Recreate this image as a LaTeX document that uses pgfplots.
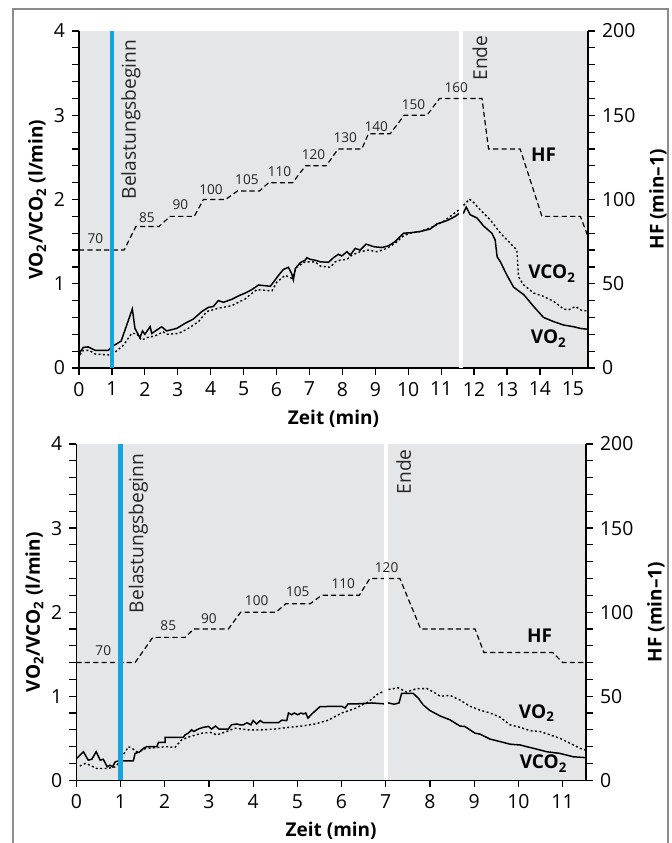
\documentclass[border=0pt]{standalone}
\usepackage{fontspec}
\setmainfont{Open Sans}
\usepackage{pgfplots}
\pgfplotsset{compat=1.18}
\definecolor{bgc}{RGB}{229,230,232}
\definecolor{blu}{RGB}{20,165,225}
\definecolor{frm}{RGB}{140,140,140}
\newcommand{\sub}[1]{\textsubscript{#1}}
\pgfplotsset{
  common/.style={scale only axis, xmin=0, tick align=outside,
    major tick length=3.5pt, minor tick length=3.5pt,
    every tick/.style={black, line width=0.6pt},
    axis line style={black, line width=0.6pt},
    tick label style={font=\fontsize{9.7}{11}\selectfont},
    label style={font=\bfseries\fontsize{9.5}{11}\selectfont},
    /pgf/number format/assume math mode=true},
  leftax/.style={common, ymin=0, ymax=4, axis x line*=bottom, axis y line*=left,
    ytick={0,1,2,3,4}, minor y tick num=4, axis background/.style={fill=bgc},
    xlabel={Zeit (min)}, ylabel={VO\sub{2}/VCO\sub{2} (l/min)}, ylabel shift=-3pt},
  rightax/.style={common, ymin=0, ymax=200, axis x line=none, axis y line*=right,
    ytick={0,50,100,150,200}, minor y tick num=4, ylabel={HF (min–1)}},
}
\tikzset{
  solidc/.style={black, line width=0.75pt},
  dotc/.style={black, line width=0.7pt, dash pattern=on 1pt off 1.2pt},
  hfc/.style={black, line width=0.6pt, dash pattern=on 2.6pt off 1.6pt},
  stepl/.style={font=\fontsize{6.8}{8}\selectfont, text=black!85, inner sep=0pt},
  curvl/.style={font=\bfseries\fontsize{9.5}{11}\selectfont, inner sep=0pt},
  vtext/.style={rotate=90, anchor=north east, inner sep=0pt, font=\fontsize{9.6}{10}\selectfont, text=black!85}
}
\begin{document}
\begin{tikzpicture}
\useasboundingbox (0,0) rectangle (336pt,421.5pt);
\draw[frm, line width=1pt] (6.5pt,-5pt) -- (6.5pt,416.9pt) -- (334pt,416.9pt) -- (334pt,-5pt);
% ---------------- top chart ----------------
\begin{axis}[leftax, at={(39.5pt,237.5pt)}, anchor=south west, width=254.5pt, height=168.5pt,
  xmax=15.46, xtick={0,1,...,15}]
\addplot[solidc] coordinates {(0,0.17)(0.13,0.245)(0.28,0.25)(0.49,0.21)(0.89,0.21)(0.99,0.25)(1.28,0.32)(1.62,0.70)(1.70,0.47)(1.85,0.36)(1.93,0.44)(2.0,0.40)(2.16,0.49)(2.21,0.41)(2.51,0.49)(2.66,0.44)(2.97,0.47)(3.22,0.53)(3.47,0.58)(3.73,0.67)(3.93,0.72)(4.08,0.73)(4.23,0.80)(4.39,0.78)(4.64,0.815)(4.84,0.855)(5.05,0.89)(5.25,0.93)(5.45,0.985)(5.81,0.97)(5.91,1.02)(6.06,1.10)(6.21,1.17)(6.36,1.195)(6.46,1.12)(6.51,1.045)(6.57,1.18)(6.72,1.25)(6.87,1.28)(6.92,1.31)(7.02,1.29)(7.17,1.28)(7.33,1.26)(7.58,1.255)(7.73,1.31)(7.88,1.35)(7.98,1.33)(8.14,1.38)(8.24,1.34)(8.39,1.42)(8.54,1.40)(8.72,1.47)(8.95,1.44)(9.20,1.43)(9.40,1.45)(9.60,1.50)(9.86,1.60)(10.06,1.605)(10.36,1.62)(10.67,1.65)(10.87,1.71)(11.18,1.75)(11.43,1.80)(11.53,1.83)(11.68,1.84)(11.76,1.91)(11.88,1.82)(12.09,1.78)(12.29,1.685)(12.54,1.60)(12.64,1.52)(12.70,1.32)(12.80,1.26)(13.00,1.10)(13.20,0.96)(13.51,0.87)(13.81,0.73)(14.11,0.60)(14.42,0.55)(14.72,0.51)(15.02,0.49)(15.23,0.47)(15.43,0.46)};
\addplot[dotc] coordinates {(0.03,0.155)(0.13,0.21)(0.31,0.21)(0.49,0.166)(0.89,0.155)(1.04,0.17)(1.35,0.27)(1.60,0.41)(1.75,0.41)(1.90,0.33)(2.06,0.36)(2.31,0.38)(2.56,0.43)(2.66,0.40)(3.02,0.41)(3.32,0.47)(3.63,0.55)(3.88,0.67)(4.23,0.71)(4.64,0.74)(4.89,0.79)(5.05,0.82)(5.20,0.87)(5.40,0.93)(5.86,0.915)(6.01,1.02)(6.26,1.10)(6.46,1.065)(6.62,1.20)(6.87,1.26)(7.17,1.26)(7.33,1.21)(7.63,1.195)(7.78,1.26)(7.93,1.28)(8.14,1.29)(8.29,1.34)(8.54,1.38)(8.79,1.40)(9.05,1.38)(9.35,1.42)(9.60,1.48)(9.86,1.57)(10.06,1.60)(10.36,1.62)(10.77,1.68)(11.07,1.74)(11.28,1.80)(11.53,1.875)(11.78,1.97)(11.85,2.005)(11.95,1.98)(12.19,1.875)(12.49,1.76)(12.80,1.60)(13.10,1.48)(13.30,1.40)(13.35,1.08)(13.51,0.985)(13.81,0.89)(14.11,0.85)(14.42,0.79)(14.72,0.70)(14.87,0.69)(15.08,0.73)(15.28,0.68)(15.46,0.68)};
\end{axis}
\begin{axis}[rightax, at={(39.5pt,237.5pt)}, anchor=south west, width=254.5pt, height=168.5pt,
  xmax=15.46]
\addplot[hfc] coordinates {(0,70)(1.37,70)(1.73,84)(2.43,84)(2.77,90)(3.50,90)(3.78,100)(4.45,100)(4.81,105)(5.48,105)(5.76,110)(6.49,110)(6.88,120)(7.51,120)(7.87,130)(8.59,130)(8.79,139)(9.45,139)(9.88,150)(10.57,150)(10.95,160)(12.24,160)(12.44,130)(13.40,130)(14.06,90)(15.23,90)(15.46,78)};
\addplot[blu, line width=2.2pt] coordinates {(1,0)(1,200)};
\addplot[white, line width=2pt] coordinates {(11.61,0)(11.61,200)};
\node[vtext] at (axis cs:1.27,195) {Belastungsbeginn};
\node[vtext] at (axis cs:11.94,197.5) {Ende};
\node[stepl] at (axis cs:0.5,76.5) {70};
\node[stepl] at (axis cs:2.06,89.5) {85};
\node[stepl] at (axis cs:3.08,97) {90};
\node[stepl] at (axis cs:4.01,106) {100};
\node[stepl] at (axis cs:5.10,112) {105};
\node[stepl] at (axis cs:6.09,116.5) {110};
\node[stepl] at (axis cs:7.12,126.5) {120};
\node[stepl] at (axis cs:8.09,137) {130};
\node[stepl] at (axis cs:9.03,143.5) {140};
\node[stepl] at (axis cs:10.16,156.5) {150};
\node[stepl] at (axis cs:11.46,166.5) {160};
\node[curvl] at (axis cs:14.11,126.5) {HF};
\node[curvl] at (axis cs:14.37,56) {VCO\sub{2}};
\node[curvl] at (axis cs:14.27,17.5) {VO\sub{2}};
\end{axis}
% ---------------- bottom chart ----------------
\begin{axis}[leftax, at={(38.15pt,31.35pt)}, anchor=south west, width=254.85pt, height=168.15pt,
  xmax=11.53, xtick={0,1,...,11}]
\addplot[solidc] coordinates {(0.01,0.26)(0.16,0.34)(0.27,0.24)(0.35,0.25)(0.45,0.34)(0.54,0.24)(0.61,0.25)(0.70,0.16)(0.76,0.18)(0.82,0.16)(0.88,0.22)(0.95,0.23)(1.29,0.23)(1.33,0.32)(1.44,0.34)(1.52,0.38)(1.59,0.40)(1.82,0.40)(1.86,0.45)(2.01,0.45)(2.01,0.51)(2.42,0.51)(2.46,0.54)(2.53,0.56)(2.61,0.60)(2.66,0.58)(2.76,0.61)(2.87,0.63)(2.99,0.64)(3.06,0.61)(3.15,0.645)(3.23,0.61)(3.44,0.61)(3.51,0.66)(3.63,0.67)(3.70,0.66)(3.78,0.66)(3.86,0.685)(3.95,0.66)(4.00,0.71)(4.08,0.67)(4.16,0.71)(4.23,0.685)(4.57,0.685)(4.65,0.715)(4.76,0.71)(4.80,0.80)(4.87,0.78)(4.93,0.80)(5.01,0.78)(5.08,0.80)(5.14,0.79)(5.19,0.80)(5.24,0.74)(5.33,0.79)(5.51,0.875)(5.78,0.88)(6.00,0.88)(6.08,0.86)(6.15,0.91)(6.38,0.91)(6.68,0.92)(6.95,0.91)(7.06,0.92)(7.19,0.905)(7.30,0.92)(7.36,1.035)(7.62,1.035)(7.74,0.975)(7.85,0.895)(8.00,0.83)(8.23,0.765)(8.45,0.72)(8.68,0.645)(8.79,0.64)(9.02,0.56)(9.13,0.55)(9.36,0.49)(9.59,0.46)(9.81,0.43)(10.04,0.42)(10.19,0.40)(10.42,0.37)(10.64,0.34)(10.94,0.32)(11.24,0.28)(11.51,0.27)};
\addplot[dotc] coordinates {(0.08,0.17)(0.20,0.20)(0.31,0.18)(0.46,0.14)(0.69,0.14)(0.88,0.16)(0.99,0.22)(1.06,0.30)(1.18,0.40)(1.29,0.37)(1.37,0.34)(1.59,0.38)(1.82,0.39)(2.05,0.40)(2.23,0.39)(2.38,0.48)(2.57,0.52)(2.84,0.56)(3.03,0.57)(3.18,0.54)(3.40,0.58)(3.59,0.62)(3.89,0.60)(4.19,0.60)(4.50,0.61)(4.80,0.63)(5.10,0.645)(5.40,0.67)(5.70,0.715)(6.00,0.80)(6.31,0.855)(6.61,0.935)(6.83,1.03)(7.06,1.08)(7.28,1.10)(7.47,1.05)(7.70,1.09)(7.93,1.09)(8.08,1.05)(8.23,1.00)(8.45,1.01)(8.68,0.955)(8.91,0.88)(9.13,0.835)(9.36,0.80)(9.59,0.75)(9.81,0.66)(10.04,0.63)(10.27,0.59)(10.49,0.58)(10.72,0.54)(10.94,0.50)(11.17,0.44)(11.40,0.38)(11.51,0.36)};
\end{axis}
\begin{axis}[rightax, at={(38.15pt,31.35pt)}, anchor=south west, width=254.85pt, height=168.15pt,
  xmax=11.53]
\addplot[hfc] coordinates {(0,70)(1.33,70)(1.73,85)(2.46,85)(2.66,90)(3.44,90)(3.72,100)(4.52,100)(4.74,105)(5.29,105)(5.55,110)(6.40,110)(6.64,120)(7.32,120)(7.79,90)(9.02,90)(9.22,76)(10.78,76)(11.0,70)(11.53,70)};
\addplot[blu, line width=2.2pt] coordinates {(1,0)(1,200)};
\addplot[white, line width=2pt] coordinates {(7.0,0)(7.0,200)};
\node[vtext] at (axis cs:1.18,194.5) {Belastungsbeginn};
\node[vtext] at (axis cs:7.23,197) {Ende};
\node[stepl] at (axis cs:0.61,77) {70};
\node[stepl] at (axis cs:2.08,92) {85};
\node[stepl] at (axis cs:3.00,96) {90};
\node[stepl] at (axis cs:4.08,107) {100};
\node[stepl] at (axis cs:5.01,112) {105};
\node[stepl] at (axis cs:6.04,117) {110};
\node[stepl] at (axis cs:7.02,126.5) {120};
\node[curvl] at (axis cs:10.48,86) {HF};
\node[curvl] at (axis cs:10.42,40) {VO\sub{2}};
\node[curvl] at (axis cs:10.57,10) {VCO\sub{2}};
\end{axis}
\end{tikzpicture}
\end{document}
